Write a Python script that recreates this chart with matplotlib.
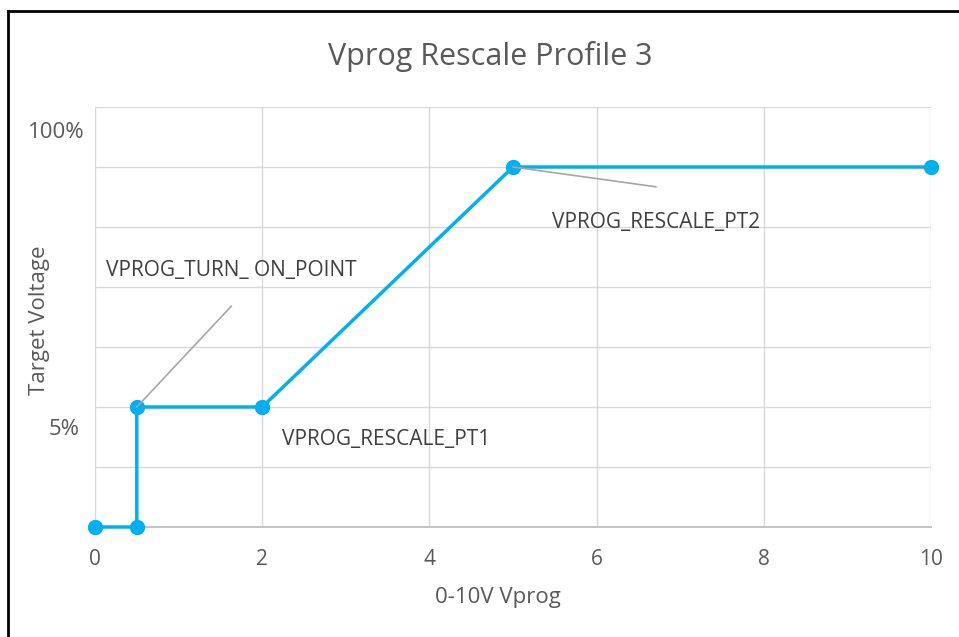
import matplotlib.pyplot as plt
from matplotlib.lines import Line2D

plt.rcParams['font.family'] = ['Open Sans', 'DejaVu Sans']

vprog = [0, 0.5, 0.5, 2, 5, 10]
target = [0, 0, 2, 2, 6, 6]
xticks = [0, 2, 4, 6, 8, 10]
yticks = [0, 1, 2, 3, 4, 5, 6, 7]

blue = '#00B0F0'
grey_txt = '#595959'

W, H = 959, 637
fig = plt.figure(figsize=(W/100, H/100), dpi=100)
ax = fig.add_axes([95/W, 1-527/H, (931-95)/W, 420/H])

ax.plot(vprog, target, color=blue, lw=2.5, marker='o', ms=10, zorder=3,
        clip_on=False)

ax.set_xlim(0, 10)
ax.set_ylim(0, 7)
ax.set_xticks(xticks)
ax.set_yticks(yticks)
ax.set_yticklabels([])
ax.tick_params(length=0, labelsize=15, colors=grey_txt, pad=16)
ax.grid(True, color='#D9D9D9', lw=1)
for s in ['top', 'left', 'right']:
    ax.spines[s].set_visible(False)
ax.spines['bottom'].set_color('#BFBFBF')
ax.spines['bottom'].set_linewidth(1.3)
ax.set_axisbelow(True)

fig.text(498/W, 1-598/H, '0-10V Vprog', fontsize=16, color=grey_txt,
         ha='center', va='center')
fig.text(40/W, 1-320/H, 'Target Voltage', fontsize=16, color=grey_txt,
         ha='center', va='center', rotation=90)
fig.text(490/W, 1-57/H, 'Vprog Rescale Profile 3', fontsize=22,
         color=grey_txt, ha='center', va='center')

# manual y labels
ax.text(-0.12, 6.57, '100%', ha='right', va='center', fontsize=16,
        color=grey_txt, clip_on=False)
ax.text(-0.18, 1.62, '5%', ha='right', va='center', fontsize=16,
        color=grey_txt, clip_on=False)

# callouts
ax.plot([0.5, 1.63], [2, 3.68], color='#A6A6A6', lw=1.2, zorder=4)
ax.plot([5, 6.71], [6, 5.67], color='#A6A6A6', lw=1.2, zorder=4)
ax.text(0.13, 4.28, 'VPROG_TURN_ ON_POINT', fontsize=15, color='#404040',
        va='center')
ax.text(2.24, 1.45, 'VPROG_RESCALE_PT1', fontsize=15, color='#404040',
        va='center')
ax.text(5.47, 5.07, 'VPROG_RESCALE_PT2', fontsize=15, color='#404040',
        va='center')

# frame around the chart
fig.add_artist(Line2D([8/W, 1], [1-11/H, 1-11/H], color='black', lw=2))
fig.add_artist(Line2D([8/W, 8/W], [0, 1-11/H], color='black', lw=2))

fig.savefig('out.png', dpi=100)
